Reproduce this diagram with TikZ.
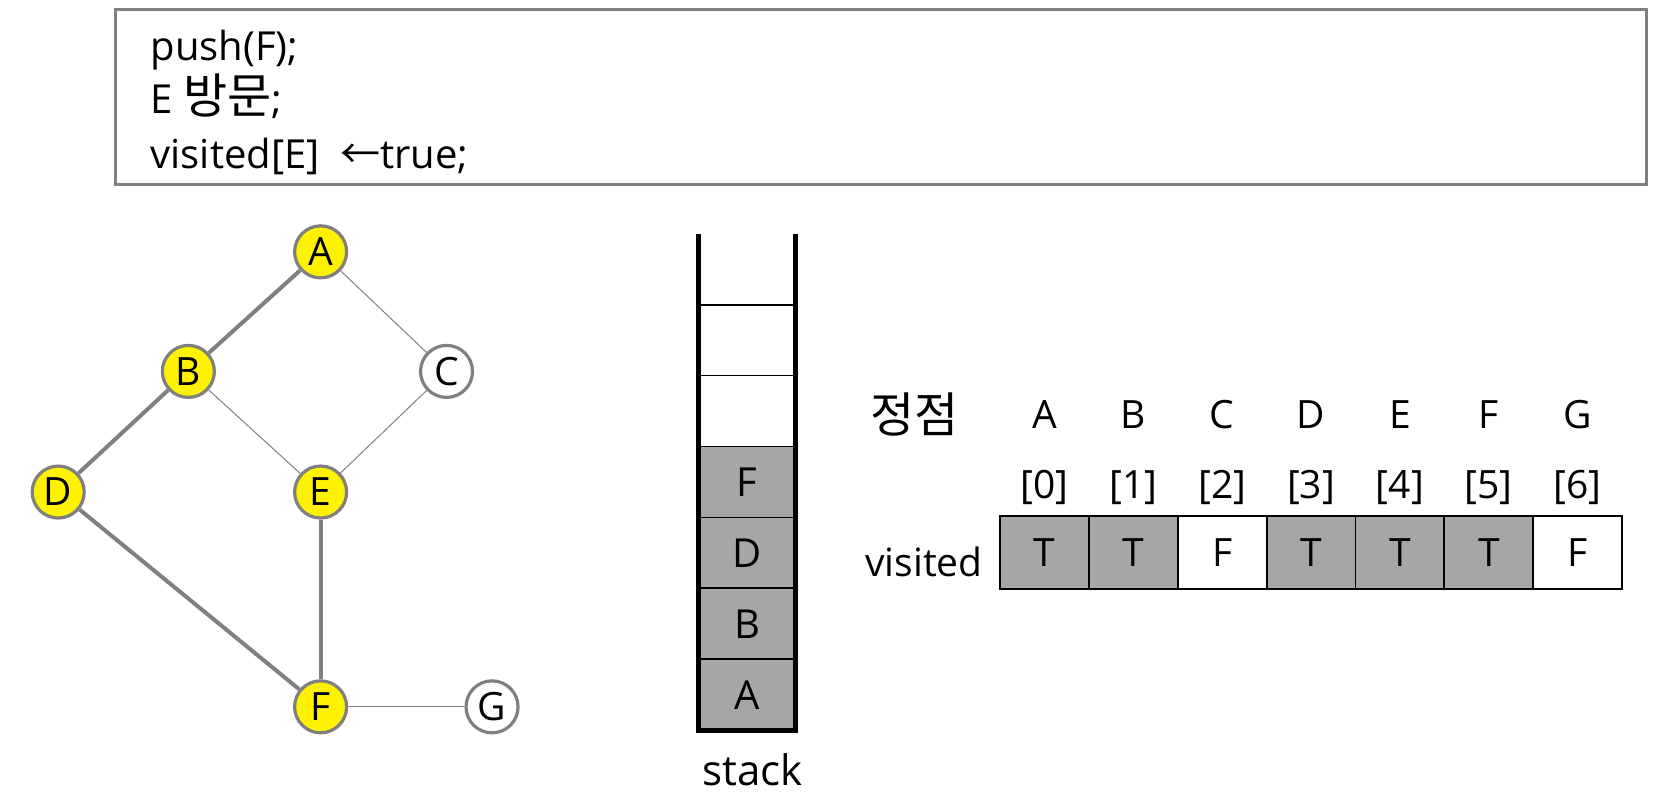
\documentclass[tikz,border=0pt]{standalone}
\usepackage{fontspec}
\setmainfont{Open Sans}
\newfontfamily\kr{Noto Sans CJK KR}
\definecolor{done}{HTML}{A6A6A6}
\definecolor{edgegray}{HTML}{808080}
\newcommand{\hangul}[1]{{\kr\fontsize{24}{24}\selectfont #1}}

\begin{document}
\begin{tikzpicture}[x = 0.529pt, y = -0.529pt,
        vtx/.style = {circle, draw = edgegray, line width = 1.6pt, fill = yellow,
                      minimum size = 26pt, inner sep = 0pt, font = \fontsize{19.5}{21}\selectfont},
        fresh/.style = {vtx, fill = white},
        treeedge/.style = {draw = edgegray, line width = 2pt},
        backedge/.style = {draw = edgegray, line width = 0.5pt},
        slot/.style = {draw, line width = 0.8pt, minimum width = 48.7pt, minimum height = 35.4pt,
                       inner sep = 0pt, font = \fontsize{20}{22}\selectfont},
        cell/.style = {draw, line width = 0.9pt, minimum width = 44.4pt, minimum height = 36.5pt,
                       inner sep = 0pt, font = \fontsize{19.5}{21}\selectfont},
        big/.style = {font = \fontsize{19.5}{21}\selectfont},
        code/.style = {font = \fontsize{20}{22}\selectfont, anchor = base west, inner sep = 0pt}]
        \useasboundingbox (0,0) rectangle (1565,758);

        % code box
        \draw[edgegray, line width = 1.4pt] (109,9) rectangle (1556,174);
        \node[code] (l1) at (142,57) {push(F);};
        \node[code] (l2) at (142,107) {E \hangul{방문};};
        \node[code] (l3) at (142,159) {visited[E]\ \ {\kr ←}true;};

        % graph
        \node[vtx] (A) at (303,238) {A};
        \node[vtx] (B) at (178,351) {B};
        \node[fresh] (C) at (422,351) {C};
        \node[vtx] (D) at (55,465) {D};
        \node[vtx] (E) at (303,465) {E};
        \node[vtx] (F) at (303,668) {F};
        \node[fresh] (G) at (465,668) {G};
        \draw[treeedge] (A) -- (B);
        \draw[treeedge] (B) -- (D);
        \draw[treeedge] (D) -- (F);
        \draw[treeedge] (E) -- (F);
        \draw[backedge] (A) -- (C);
        \draw[backedge] (B) -- (E);
        \draw[backedge] (C) -- (E);
        \draw[backedge] (F) -- (G);

        % stack
        \node[slot] (s5) at (706,321.5) {};
        \node[slot] (s4) at (706,388.5) {};
        \node[slot, fill = done] (s3) at (706,455.5) {F};
        \node[slot, fill = done] (s2) at (706,522.5) {D};
        \node[slot, fill = done] (s1) at (706,589.5) {B};
        \node[slot, fill = done] (s0) at (706,656.5) {A};
        \coordinate (stl) at (660,221);
        \coordinate (str) at (752,221);
        \draw[line width = 2.6pt] (stl) -- (660,690) -- (752,690) -- (str);
        \node[font = \fontsize{21}{23}\selectfont, anchor = base, inner sep = 0pt] (stack) at (711,742) {stack};

        % visited array
        \node (jj) at (864,392) {\hangul{정점}};
        \foreach \v/\s/\c [count = \i from 0] in {A/T/done, B/T/done, C/F/white, D/T/done,
                                                  E/T/done, F/T/done, G/F/white} {
          \node[big] (h\i) at (987+84*\i,392) {\v};
          \node[big] (n\i) at (987+84*\i,461) {[\i]};
          \node[cell, fill = \c] (v\i) at (987+84*\i,522.5) {\s};
        }
        \node[big, anchor = base east, inner sep = 0pt] (vis) at (929,545) {visited};
      \end{tikzpicture}
\end{document}
